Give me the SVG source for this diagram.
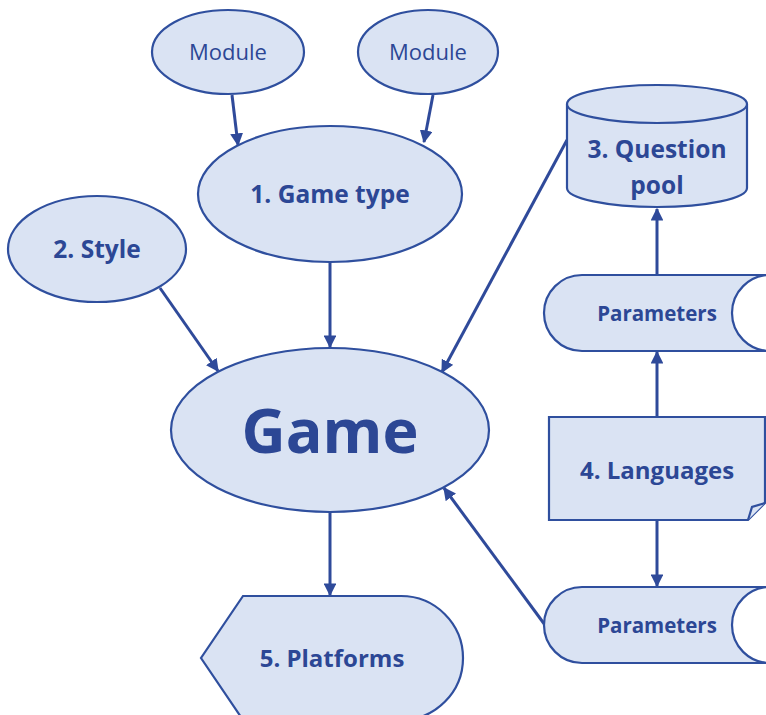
<svg xmlns="http://www.w3.org/2000/svg" width="766" height="715" viewBox="0 0 766 715">
<style>
.s{fill:#dae3f3;stroke:#2f4f9e;stroke-width:2.2}
.t{font-family:"Open Sans","Liberation Sans",sans-serif;fill:#2c4795;text-anchor:middle;dominant-baseline:central}
.b{font-weight:700}
.c{stroke:#2f4a9a;stroke-width:3;fill:none;marker-end:url(#ah)}
</style>
<defs>
<marker id="ah" viewBox="0 0 10 10" refX="9" refY="5" markerWidth="4.3" markerHeight="4.3" orient="auto" markerUnits="strokeWidth">
<path d="M0,0 L10,5 L0,10 z" fill="#2f4a9a"/>
</marker>
</defs>
<rect width="766" height="715" fill="#ffffff"/>
<g id="connectors">
<line class="c" x1="232" y1="95" x2="238" y2="145"/>
<line class="c" x1="433" y1="95" x2="424" y2="142"/>
<line class="c" x1="330" y1="262" x2="330" y2="347"/>
<line class="c" x1="160" y1="288" x2="218" y2="371"/>
<line class="c" x1="567" y1="140" x2="442" y2="372"/>
<line class="c" x1="330" y1="512" x2="330" y2="595"/>
<line class="c" x1="657" y1="274" x2="657" y2="209"/>
<line class="c" x1="657" y1="417" x2="657" y2="352"/>
<line class="c" x1="657" y1="520" x2="657" y2="586"/>
<line class="c" x1="545" y1="625" x2="444" y2="488"/>
</g>
<g id="module1">
<ellipse class="s" cx="228" cy="52" rx="76" ry="42"/>
<text class="t" x="228" y="51" font-size="22">Module</text>
</g>
<g id="module2">
<ellipse class="s" cx="428" cy="52" rx="70" ry="42"/>
<text class="t" x="428" y="51" font-size="22">Module</text>
</g>
<g id="gametype">
<ellipse class="s" cx="330" cy="194" rx="132" ry="68"/>
<text class="t b" x="330" y="193" font-size="24.5">1. Game type</text>
</g>
<g id="style">
<ellipse class="s" cx="97" cy="249" rx="89" ry="53"/>
<text class="t b" x="97" y="248" font-size="24.5">2. Style</text>
</g>
<g id="game">
<ellipse class="s" cx="330" cy="430" rx="159" ry="82"/>
<text class="t b" x="330" y="429" font-size="61">Game</text>
</g>
<g id="questionpool">
<path class="s" d="M567,104 A90,19 0 0 1 747,104 L747,188 A90,19 0 0 1 567,188 Z"/>
<path class="s" d="M567,104 A90,19 0 0 0 747,104" fill="none"/>
<text class="t b" x="657" y="148" font-size="24.5">3. Question</text>
<text class="t b" x="657" y="184" font-size="24.5">pool</text>
</g>
<g id="parameters1">
<path class="s" d="M582,275 L770,275 A38,38 0 0 0 770,351 L582,351 A38,38 0 0 1 582,275 Z"/>
<text class="t b" x="657" y="313" font-size="20.5">Parameters</text>
</g>
<g id="languages">
<path class="s" d="M549,417 L765,417 L765,503 L748,520 L549,520 Z"/>
<path class="s" d="M748,520 L752,507 L765,503"/>
<text class="t b" x="657" y="469" font-size="24">4. Languages</text>
</g>
<g id="parameters2">
<path class="s" d="M582,587 L770,587 A38,38 0 0 0 770,663 L582,663 A38,38 0 0 1 582,587 Z"/>
<text class="t b" x="657" y="625" font-size="20.5">Parameters</text>
</g>
<g id="platforms">
<path class="s" d="M243,596 L401,596 A62,62 0 0 1 401,720 L243,720 L201,658 Z"/>
<text class="t b" x="332" y="657" font-size="24">5. Platforms</text>
</g>
</svg>
